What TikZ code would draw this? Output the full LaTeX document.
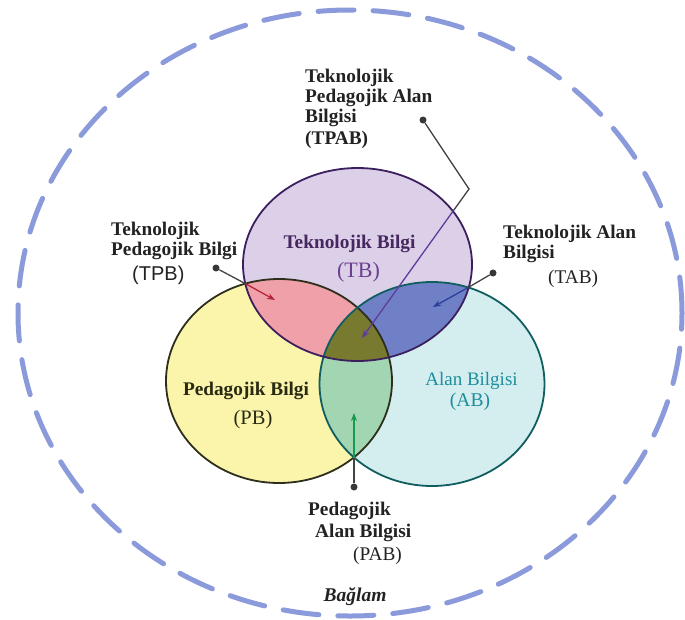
\documentclass[tikz,border=0pt]{standalone}
\usepackage{fontspec}
\setmainfont{Liberation Serif}
\newfontfamily\tpbsans{Liberation Sans}
\usetikzlibrary{arrows.meta}

\definecolor{contextblue}{HTML}{8A9ADA}
\definecolor{tbfill}{HTML}{DCD0E9}
\definecolor{pbfill}{HTML}{FBF5AC}
\definecolor{abfill}{HTML}{D4EEF0}
\definecolor{tpbfill}{HTML}{EFA0A8}
\definecolor{tabfill}{HTML}{7080C6}
\definecolor{pabfill}{HTML}{A2D5B2}
\definecolor{tpabfill}{HTML}{787A30}
\definecolor{tbedge}{HTML}{3B1F5E}
\definecolor{pbedge}{HTML}{2E2E1C}
\definecolor{abedge}{HTML}{105E60}
\definecolor{tbtext}{HTML}{46275F}
\definecolor{tbabbrcol}{HTML}{6C4090}
\definecolor{pbtext}{HTML}{2A2A12}
\definecolor{abtext}{HTML}{1C8E9C}
\definecolor{labelgray}{HTML}{222222}
\definecolor{tpbred}{HTML}{B3263A}
\definecolor{tabblue}{HTML}{2C3E99}
\definecolor{pabgreen}{HTML}{179B4C}
\definecolor{tpabpurple}{HTML}{5E3C9C}

\tikzset{
  outlbl/.style={inner sep=0pt,anchor=north west,align=left,text=labelgray,
    font=\fontsize{19.3}{20}\selectfont\bfseries},
  inlbl/.style={inner sep=0pt,anchor=base},
  pindot/.style={circle,fill=labelgray!90,inner sep=0pt,minimum size=7pt},
  leadline/.style={line width=1.3pt,draw=labelgray!85},
  pointer/.style={line width=1.3pt,-{Stealth[length=8pt,width=6pt]}},
  ring/.style={line width=1.8pt},
}

\begin{document}
\begin{tikzpicture}[x=1pt,y=-1pt,
  tbsize/.style={x radius=114.5pt,y radius=96.5pt},
  pbsize/.style={x radius=113pt,y radius=102pt},
  absize/.style={x radius=112.5pt,y radius=102pt}]

\useasboundingbox (0,0) rectangle (685,619);

\coordinate (ctx) at (350,313);
\coordinate (tbc) at (357.5,264.5);
\coordinate (pbc) at (279,381);
\coordinate (abc) at (432,384);

% context
\draw[contextblue,line width=5pt,line cap=round,dash pattern=on 36pt off 19pt]
  (ctx) ellipse [x radius=332pt,y radius=303pt];

% the three circles
\fill[pbfill] (pbc) ellipse [pbsize];
\fill[abfill] (abc) ellipse [absize];
\fill[tbfill] (tbc) ellipse [tbsize];
\begin{scope}
  \clip (pbc) ellipse [pbsize];
  \fill[pabfill] (abc) ellipse [absize];
\end{scope}
\begin{scope}
  \clip (tbc) ellipse [tbsize];
  \fill[tpbfill] (pbc) ellipse [pbsize];
  \fill[tabfill] (abc) ellipse [absize];
  \clip (pbc) ellipse [pbsize];
  \fill[tpabfill] (abc) ellipse [absize];
\end{scope}
\draw[ring,pbedge] (pbc) ellipse [pbsize];
\draw[ring,abedge] (abc) ellipse [absize];
\draw[ring,tbedge] (tbc) ellipse [tbsize];

% pointers
\path (423,120) node[pindot] (tpabdot) {};
\coordinate (tpabbend) at (469,189);
\coordinate (tpabin) at (453,211.2);
\coordinate (tpabtip) at (362,338);
\draw[leadline] (tpabdot) -- (tpabbend) -- (tpabin);
\draw[pointer,tpabpurple] (tpabin) -- (tpabtip);

\path (216,268) node[pindot] (tpbdot) {};
\coordinate (tpbin) at (245.5,283.7);
\coordinate (tpbtip) at (275,300);
\draw[leadline] (tpbdot) -- (tpbin);
\draw[pointer,tpbred] (tpbin) -- (tpbtip);

\path (493,273) node[pindot] (tabdot) {};
\coordinate (tabin) at (468,287.6);
\coordinate (tabtip) at (433,307);
\draw[leadline] (tabdot) -- (tabin);
\draw[pointer,tabblue] (tabin) -- (tabtip);

\path (354,487) node[pindot] (pabdot) {};
\coordinate (pabin) at (354,457.5);
\coordinate (pabtip) at (354,413);
\draw[leadline] (pabdot) -- (pabin);
\draw[pointer,pabgreen] (pabin) -- (pabtip);

% labels
\path (305,68.5) node[outlbl] (tpablbl) {Teknolojik\\Pedagojik Alan\\Bilgisi\\[2pt](TPAB)};
\path (111,221.8) node[outlbl] (tpblbl) {Teknolojik\\Pedagojik Bilgi\\[5pt]\hspace*{21pt}{\tpbsans\mdseries\fontsize{20}{20}\selectfont(TPB)}};
\path (503,224.8) node[outlbl] (tablbl) {Teknolojik Alan\\Bilgisi\\[5pt]\hspace*{45pt}{\mdseries(TAB)}};
\path (308,501.8) node[outlbl] (pablbl) {Pedagojik\\[2pt]\hspace*{7pt}Alan Bilgisi\\[3pt]\hspace*{45pt}{\mdseries(PAB)}};

\path (349.5,248) node[inlbl,text=tbtext,font=\fontsize{19.3}{20}\selectfont\bfseries] (tbname) {Teknolojik Bilgi};
\path (358.5,277) node[inlbl,text=tbabbrcol,font=\fontsize{22}{22}\selectfont] (tbabbr) {(TB)};
\path (246,395.5) node[inlbl,text=pbtext,font=\fontsize{19.3}{20}\selectfont\bfseries] (pbname) {Pedagojik Bilgi};
\path (253,424) node[inlbl,text=pbtext,font=\fontsize{20.5}{20}\selectfont] (pbabbr) {(PB)};
\path (471.5,385) node[inlbl,text=abtext,font=\fontsize{19}{20}\selectfont] (abname) {Alan Bilgisi};
\path (470,406) node[inlbl,text=abtext,font=\fontsize{19.5}{20}\selectfont] (ababbr) {(AB)};

\path (355,601) node[inlbl,text=labelgray,font=\fontsize{19.5}{20}\selectfont\bfseries\itshape] (ctxname) {Bağlam};

\end{tikzpicture}
\end{document}
